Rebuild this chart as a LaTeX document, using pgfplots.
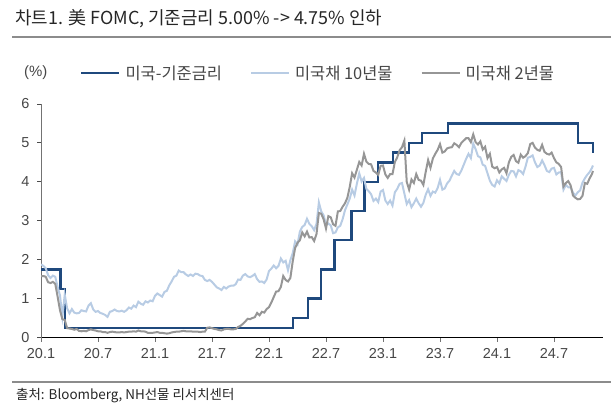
\documentclass[border=0pt]{standalone}
\usepackage{pgfplots}
\pgfplotsset{compat=1.18}
\usepackage{fontspec}
\setmainfont{Liberation Sans}
\newfontfamily\kr{Noto Sans CJK KR}
\definecolor{navy}{RGB}{31,73,125}
\definecolor{lblue}{RGB}{184,204,228}
\definecolor{dgray}{RGB}{150,150,150}
\definecolor{txt}{RGB}{70,70,70}
\begin{document}
\begin{tikzpicture}[x=1bp,y=1bp]
\useasboundingbox (0,0) rectangle (616,410);
\node[anchor=west,inner sep=0,text=black!85] at (15,391) {\kr\fontsize{18}{20}\selectfont 차트1. 美 FOMC, 기준금리 5.00\% -> 4.75\% 인하};
\draw[line width=1.2bp, black!45] (12,373) -- (611,373);
\draw[line width=1.2bp, black!45] (12,28) -- (611,28);
\node[anchor=west,inner sep=0,text=black!85] at (16,14) {\kr\fontsize{13.5}{15}\selectfont 출처: Bloomberg, NH선물 리서치센터};
\node[anchor=west,inner sep=0,text=txt] at (24,337) {\fontsize{15}{16}\selectfont (\%)};
\begin{axis}[
  at={(41bp,72.5bp)}, anchor=south west,
  scale only axis, width=562bp, height=233.5bp,
  xmin=0, xmax=59.16, ymin=0, ymax=6,
  axis x line*=bottom, axis y line*=left,
  x axis line style={black, line width=0.9bp},
  y axis line style={black!55, line width=0.9bp},
  tick align=outside, major tick length=4bp,
  x tick style={black!55, line width=0.9bp},
  y tick style={black!70, line width=0.9bp},
  xtick={0,6,...,54},
  xticklabels={20.1,20.7,21.1,21.7,22.1,22.7,23.1,23.7,24.1,24.7},
  ytick={0,1,...,6},
  /pgf/number format/assume math mode=true,
  tick label style={font=\fontsize{14.5}{15}\selectfont, text=txt},
  xticklabel style={yshift=-3bp},
  yticklabel style={xshift=-4bp},
  legend columns=3,
  legend style={at={(axis description cs:0.0694,1.1328)}, anchor=west, draw=none, fill=none, inner sep=0pt,
    font=\kr\fontsize{16.5}{18}\selectfont, text=txt, nodes={inner sep=0pt},
    /tikz/every even column/.append style={column sep=28bp},
    /tikz/every odd column/.append style={column sep=5bp}},
  legend image code/.code={\draw[#1] (0bp,0bp) -- (38bp,0bp);},
]
\addplot[navy, line width=2.4bp, const plot] coordinates {(0,1.75)(2.07,1.25)(2.5,0.25)(26.53,0.5)(28.13,1.0)(29.5,1.75)(30.9,2.5)(32.7,3.25)(34.07,4.0)(35.47,4.5)(37.03,4.75)(38.73,5.0)(40.1,5.25)(42.87,5.5)(56.5,5.0)(58.1,4.75)};
\addlegendentry{미국-기준금리}
\addplot[lblue, line width=2bp] coordinates {
(0,1.88)(0.25,1.84)(0.5,1.78)(0.75,1.60)
(1,1.53)(1.25,1.59)(1.5,1.56)(1.75,1.30)
(2,1.08)(2.25,0.54)(2.5,1.10)(2.75,0.75)
(3,0.62)(3.25,0.73)(3.5,0.64)(3.75,0.62)
(4,0.63)(4.25,0.70)(4.5,0.68)(4.75,0.67)
(5,0.82)(5.25,0.88)(5.5,0.72)(5.75,0.66)
(6,0.68)(6.25,0.63)(6.5,0.61)(6.75,0.58)
(7,0.53)(7.25,0.66)(7.5,0.68)(7.75,0.72)
(8,0.68)(8.25,0.67)(8.5,0.69)(8.75,0.66)
(9,0.70)(9.25,0.77)(9.5,0.74)(9.75,0.82)
(10,0.78)(10.25,0.92)(10.5,0.87)(10.75,0.84)
(11,0.93)(11.25,0.90)(11.5,0.95)(11.75,0.93)
(12,1.07)(12.25,1.13)(12.5,1.09)(12.75,1.05)
(13,1.17)(13.25,1.20)(13.5,1.34)(13.75,1.44)
(14,1.56)(14.25,1.59)(14.5,1.72)(14.75,1.68)
(15,1.68)(15.25,1.62)(15.5,1.58)(15.75,1.62)
(16,1.58)(16.25,1.64)(16.5,1.63)(16.75,1.59)
(17,1.58)(17.25,1.48)(17.5,1.45)(17.75,1.48)
(18,1.43)(18.25,1.36)(18.5,1.29)(18.75,1.26)
(19,1.22)(19.25,1.30)(19.5,1.26)(19.75,1.31)
(20,1.33)(20.25,1.33)(20.5,1.37)(20.75,1.49)
(21,1.48)(21.25,1.59)(21.5,1.63)(21.75,1.57)
(22,1.55)(22.25,1.58)(22.5,1.63)(22.75,1.50)
(23,1.43)(23.25,1.44)(23.5,1.40)(23.75,1.49)
(24,1.71)(24.25,1.77)(24.5,1.85)(24.75,1.78)
(25,1.84)(25.25,2.03)(25.5,1.93)(25.75,1.97)
(26,1.73)(26.25,1.99)(26.5,2.17)(26.75,2.47)
(27,2.39)(27.25,2.72)(27.5,2.84)(27.75,2.89)
(28,3.05)(28.25,2.92)(28.5,2.86)(28.75,2.76)
(29,2.92)(29.25,3.47)(29.5,3.24)(29.75,3.14)
(30,2.90)(30.25,2.93)(30.5,2.88)(30.75,2.68)
(31,2.70)(31.25,2.83)(31.5,2.87)(31.75,3.04)
(32,3.27)(32.25,3.42)(32.5,3.57)(32.75,3.80)
(33,3.65)(33.25,3.95)(33.5,4.22)(33.75,4.01)
(34,4.10)(34.25,3.82)(34.5,3.76)(34.75,3.68)
(35,3.51)(35.25,3.57)(35.5,3.48)(35.75,3.75)
(36,3.79)(36.25,3.52)(36.5,3.43)(36.75,3.52)
(37,3.39)(37.25,3.73)(37.5,3.82)(37.75,3.95)
(38,3.97)(38.25,3.70)(38.5,3.43)(38.75,3.53)
(39,3.35)(39.25,3.45)(39.5,3.57)(39.75,3.45)
(40,3.36)(40.25,3.46)(40.5,3.67)(40.75,3.81)
(41,3.64)(41.25,3.75)(41.5,3.72)(41.75,3.84)
(42,4.05)(42.25,3.80)(42.5,3.83)(42.75,3.96)
(43,4.03)(43.25,4.16)(43.5,4.28)(43.75,4.20)
(44,4.18)(44.25,4.29)(44.5,4.44)(44.75,4.59)
(45,4.72)(45.25,4.61)(45.5,4.98)(45.75,4.84)
(46,4.66)(46.25,4.63)(46.5,4.44)(46.75,4.41)
(47,4.22)(47.25,4.03)(47.5,3.92)(47.75,3.88)
(48,4.04)(48.25,3.96)(48.5,4.14)(48.75,4.08)
(49,4.02)(49.25,4.18)(49.5,4.28)(49.75,4.27)
(50,4.14)(50.25,4.30)(50.5,4.27)(50.75,4.20)
(51,4.39)(51.25,4.62)(51.5,4.64)(51.75,4.68)
(52,4.50)(52.25,4.38)(52.5,4.42)(52.75,4.55)
(53,4.43)(53.25,4.28)(53.5,4.25)(53.75,4.34)
(54,4.36)(54.25,4.19)(54.5,4.24)(54.75,4.25)
(55,3.80)(55.25,3.92)(55.5,3.86)(55.75,3.86)
(56,3.72)(56.25,3.65)(56.5,3.73)(56.75,3.78)
(57,3.98)(57.25,4.09)(57.5,4.18)(57.75,4.25)
(58,4.36)(58.1,4.42)};
\addlegendentry{미국채 10년물}
\addplot[dgray, line width=2bp] coordinates {
(0,1.58)(0.25,1.58)(0.5,1.56)(0.75,1.42)
(1,1.40)(1.25,1.43)(1.5,1.38)(1.75,1.05)
(2,0.70)(2.25,0.47)(2.5,0.45)(2.75,0.24)
(3,0.23)(3.25,0.22)(3.5,0.20)(3.75,0.22)
(4,0.17)(4.25,0.16)(4.5,0.17)(4.75,0.16)
(5,0.19)(5.25,0.21)(5.5,0.19)(5.75,0.18)
(6,0.16)(6.25,0.16)(6.5,0.14)(6.75,0.14)
(7,0.12)(7.25,0.14)(7.5,0.15)(7.75,0.14)
(8,0.13)(8.25,0.13)(8.5,0.14)(8.75,0.13)
(9,0.14)(9.25,0.15)(9.5,0.15)(9.75,0.16)
(10,0.15)(10.25,0.18)(10.5,0.16)(10.75,0.16)
(11,0.15)(11.25,0.12)(11.5,0.12)(11.75,0.12)
(12,0.13)(12.25,0.14)(12.5,0.12)(12.75,0.12)
(13,0.11)(13.25,0.10)(13.5,0.11)(13.75,0.13)
(14,0.14)(14.25,0.15)(14.5,0.15)(14.75,0.16)
(15,0.17)(15.25,0.16)(15.5,0.16)(15.75,0.16)
(16,0.15)(16.25,0.15)(16.5,0.15)(16.75,0.14)
(17,0.15)(17.25,0.15)(17.5,0.25)(17.75,0.26)
(18,0.24)(18.25,0.22)(18.5,0.21)(18.75,0.19)
(19,0.18)(19.25,0.21)(19.5,0.22)(19.75,0.22)
(20,0.21)(20.25,0.21)(20.5,0.22)(20.75,0.27)
(21,0.30)(21.25,0.35)(21.5,0.41)(21.75,0.48)
(22,0.47)(22.25,0.50)(22.5,0.52)(22.75,0.63)
(23,0.57)(23.25,0.66)(23.5,0.64)(23.75,0.73)
(24,0.78)(24.25,0.90)(24.5,1.04)(24.75,1.18)
(25,1.19)(25.25,1.30)(25.5,1.58)(25.75,1.48)
(26,1.44)(26.25,1.53)(26.5,1.96)(26.75,2.30)
(27,2.43)(27.25,2.50)(27.5,2.70)(27.75,2.60)
(28,2.72)(28.25,2.57)(28.5,2.58)(28.75,2.48)
(29,2.66)(29.25,3.20)(29.5,3.18)(29.75,3.04)
(30,2.80)(30.25,3.12)(30.5,3.09)(30.75,2.91)
(31,2.87)(31.25,3.24)(31.5,3.25)(31.75,3.36)
(32,3.45)(32.25,3.59)(32.5,3.87)(32.75,4.22)
(33,4.11)(33.25,4.31)(33.5,4.51)(33.75,4.42)
(34,4.72)(34.25,4.52)(34.5,4.46)(34.75,4.45)
(35,4.28)(35.25,4.24)(35.5,4.18)(35.75,4.41)
(36,4.42)(36.25,4.19)(36.5,4.10)(36.75,4.20)
(37,4.20)(37.25,4.51)(37.5,4.63)(37.75,4.81)
(38,4.89)(38.25,5.06)(38.5,4.00)(38.75,3.80)
(39,4.06)(39.25,3.97)(39.5,4.20)(39.75,4.05)
(40,4.03)(40.25,3.92)(40.5,4.26)(40.75,4.56)
(41,4.36)(41.25,4.60)(41.5,4.72)(41.75,4.82)
(42,4.97)(42.25,4.75)(42.5,4.78)(42.75,4.86)
(43,4.88)(43.25,4.89)(43.5,4.99)(43.75,4.95)
(44,4.89)(44.25,5.00)(44.5,5.06)(44.75,5.12)
(45,5.12)(45.25,5.02)(45.5,5.22)(45.75,5.02)
(46,4.96)(46.25,5.04)(46.5,4.83)(46.75,4.90)
(47,4.61)(47.25,4.72)(47.5,4.39)(47.75,4.35)
(48,4.38)(48.25,4.24)(48.5,4.32)(48.75,4.36)
(49,4.22)(49.25,4.50)(49.5,4.64)(49.75,4.69)
(50,4.53)(50.25,4.49)(50.5,4.70)(50.75,4.62)
(51,4.66)(51.25,4.74)(51.5,4.97)(51.75,5.00)
(52,4.88)(52.25,4.82)(52.5,4.80)(52.75,4.95)
(53,4.77)(53.25,4.72)(53.5,4.70)(53.75,4.75)
(54,4.61)(54.25,4.50)(54.5,4.46)(54.75,4.38)
(55,3.88)(55.25,3.97)(55.5,4.02)(55.75,3.91)
(56,3.65)(56.25,3.59)(56.5,3.55)(56.75,3.56)
(57,3.64)(57.25,3.97)(57.5,3.95)(57.75,4.09)
(58,4.20)(58.1,4.28)};
\addlegendentry{미국채 2년물}
\end{axis}
\end{tikzpicture}
\end{document}
